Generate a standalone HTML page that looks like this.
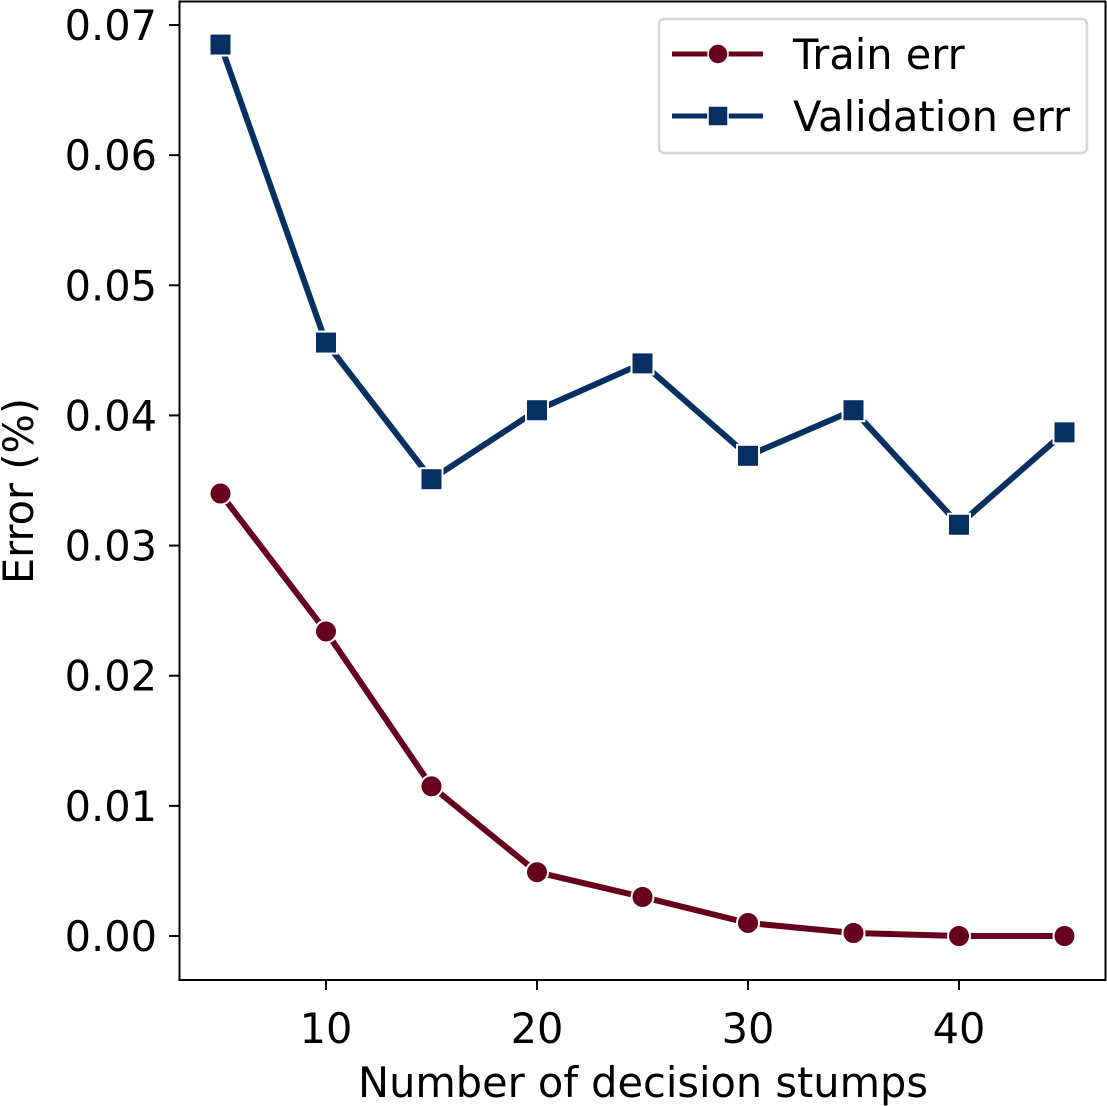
<!DOCTYPE html>
<html><head><meta charset="utf-8"><style>
html,body{margin:0;padding:0;background:#fff;}
svg{display:block;font-family:"DejaVu Sans","Liberation Sans",sans-serif;}
</style></head><body>
<svg id="chart" width="1107" height="1106" viewBox="0 0 1107 1106">
<g id="grid"></g>
<g id="series"></g>
<rect x="179.5" y="1.5" width="926" height="978.5" fill="none" stroke="#000" stroke-width="2"/>
<g id="ticks"></g>
<text x="643" y="1097" font-size="41.5" text-anchor="middle">Number of decision stumps</text>
<text transform="translate(33,491) rotate(-90)" font-size="41.5" text-anchor="middle">Error (%)</text>
<g>
<rect x="659" y="19" width="428" height="134" rx="5" fill="#fff" stroke="#d6d6d6" stroke-width="2.5"/>
<g>
<line x1="672" y1="54" x2="763" y2="54" stroke="#67001f" stroke-width="5"/>
<circle cx="718" cy="54" r="10" fill="#67001f" stroke="#fff" stroke-width="1.5"/>
<text x="793" y="69" font-size="41.5">Train err</text></g>
<g>
<line x1="672" y1="116" x2="763" y2="116" stroke="#053061" stroke-width="5"/>
<rect x="708" y="106" width="20" height="20" fill="#053061" stroke="#fff" stroke-width="1.5"/>
<text x="793" y="131" font-size="41.5">Validation err</text></g>
</g>
</svg>
<script>
const xValues=[5,10,15,20,25,30,35,40,45];
const trainErr=[0.0340,0.0234,0.0115,0.0049,0.0030,0.0010,0.00023,0.0,0.0];
const valErr=[0.0685,0.0456,0.0351,0.0404,0.0440,0.0369,0.0404,0.0316,0.0387];
const xTicks=[10,20,30,40];
const yTicks=[0,0.01,0.02,0.03,0.04,0.05,0.06,0.07];
const yTickLabels=["0.00","0.01","0.02","0.03","0.04","0.05","0.06","0.07"];
const NS="http://www.w3.org/2000/svg";
function xs(v){return 326+(v-10)*21.1;}
function ys(v){return 936-v*13014;}
function mk(tag,attrs,parent){const e=document.createElementNS(NS,tag);for(const k in attrs)e.setAttribute(k,attrs[k]);parent.appendChild(e);return e;}
const ticks=document.getElementById('ticks');
xTicks.forEach(t=>{
  const l=mk('line',{x1:xs(t),x2:xs(t),y1:980,y2:990,stroke:'#000','stroke-width':2},ticks);
  
  
  const tx=mk('text',{x:xs(t),y:1043,'font-size':41.5,'text-anchor':'middle'},ticks);
  tx.textContent=t;
  
  
});
yTicks.forEach((t,i)=>{
  const l=mk('line',{x1:169,x2:179,y1:ys(t),y2:ys(t),stroke:'#000','stroke-width':2},ticks);
  
  
  const tx=mk('text',{x:157,y:ys(t)+15,'font-size':41.5,'text-anchor':'end'},ticks);
  tx.textContent=yTickLabels[i];
  
  
});
const ser=document.getElementById('series');
function drawSeries(vals,color,shape,name){
  const g=mk('g',{},ser);
  
  
  const pts=vals.map((v,i)=>xs(xValues[i])+','+ys(v)).join(' ');
  const pl=mk('polyline',{points:pts,fill:'none',stroke:color,'stroke-width':6,'stroke-linejoin':'round'},g);
  
  
  vals.forEach((v,i)=>{
    let m;
    if(shape==='circle') m=mk('circle',{cx:xs(xValues[i]),cy:ys(v),r:11,fill:color,stroke:'#fff','stroke-width':2},g);
    else m=mk('rect',{x:xs(xValues[i])-11,y:ys(v)-11,width:22,height:22,fill:color,stroke:'#fff','stroke-width':2},g);
    
    
  });
}
drawSeries(trainErr,'#67001f','circle','train');
drawSeries(valErr,'#053061','square','validation');
</script>
</body></html>
